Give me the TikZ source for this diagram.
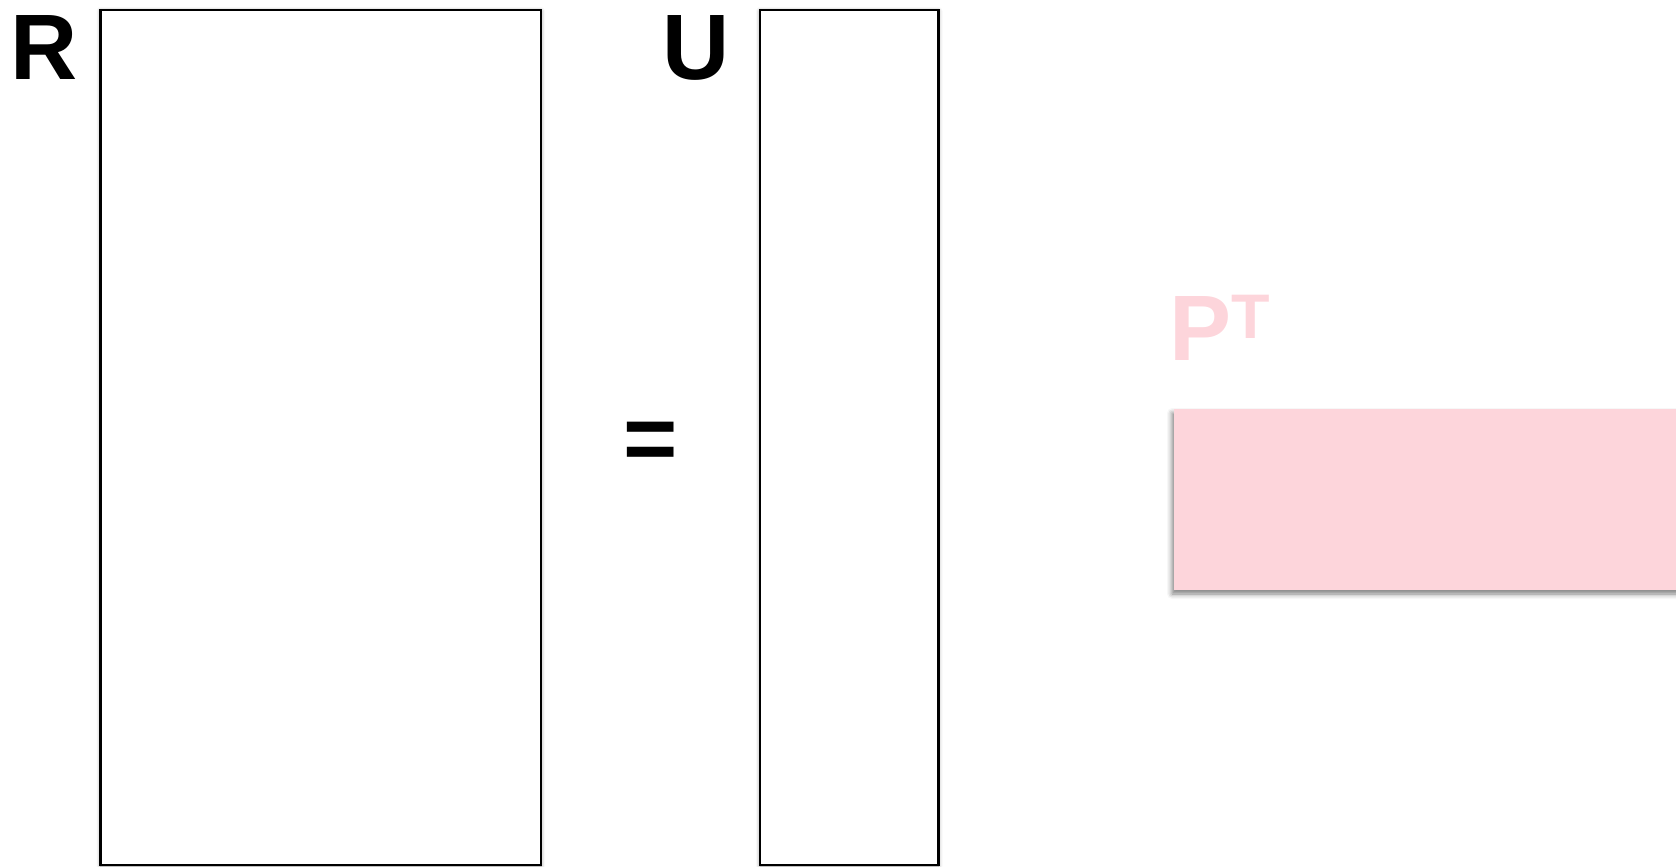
\documentclass[tikz,border=0pt]{standalone}
\usepackage{fontspec}
\setmainfont{Liberation Sans}
\usetikzlibrary{shadows.blur}
\definecolor{pinkfill}{HTML}{FDD5DB}
\tikzset{
  matbox/.style={draw=black, line width=2.5pt, fill=white, blur shadow={shadow xshift=0pt, shadow yshift=-1pt, shadow blur radius=4pt, shadow opacity=45}},
  pinkbox/.style={fill=pinkfill, draw=none, blur shadow={shadow xshift=-2pt, shadow yshift=-4pt, shadow blur radius=5pt, shadow opacity=50}},
  biglabel/.style={inner sep=0pt, font=\fontsize{93}{93}\selectfont\bfseries},
}
\begin{document}
\begin{tikzpicture}[x=1pt,y=-1pt]
\useasboundingbox (0,0) rectangle (1676,867);
% matrices
\draw[matbox] (100.5,10) rectangle (541,865);
\draw[matbox] (760,10) rectangle (938.5,865);
\fill[pinkbox] (1174,409) rectangle (1700,590);
% labels
\node[biglabel, anchor=base] (R) at (44.5,80) {R};
\node[biglabel, anchor=base] (U) at (696,80) {U};
\node[biglabel, anchor=center] (eq) at (650.5,446) {=};
\node[biglabel, anchor=base west, text=pinkfill] (P) at (1169,360) {P\raisebox{22pt}{\fontsize{63}{63}\selectfont T}};
\end{tikzpicture}
\end{document}
